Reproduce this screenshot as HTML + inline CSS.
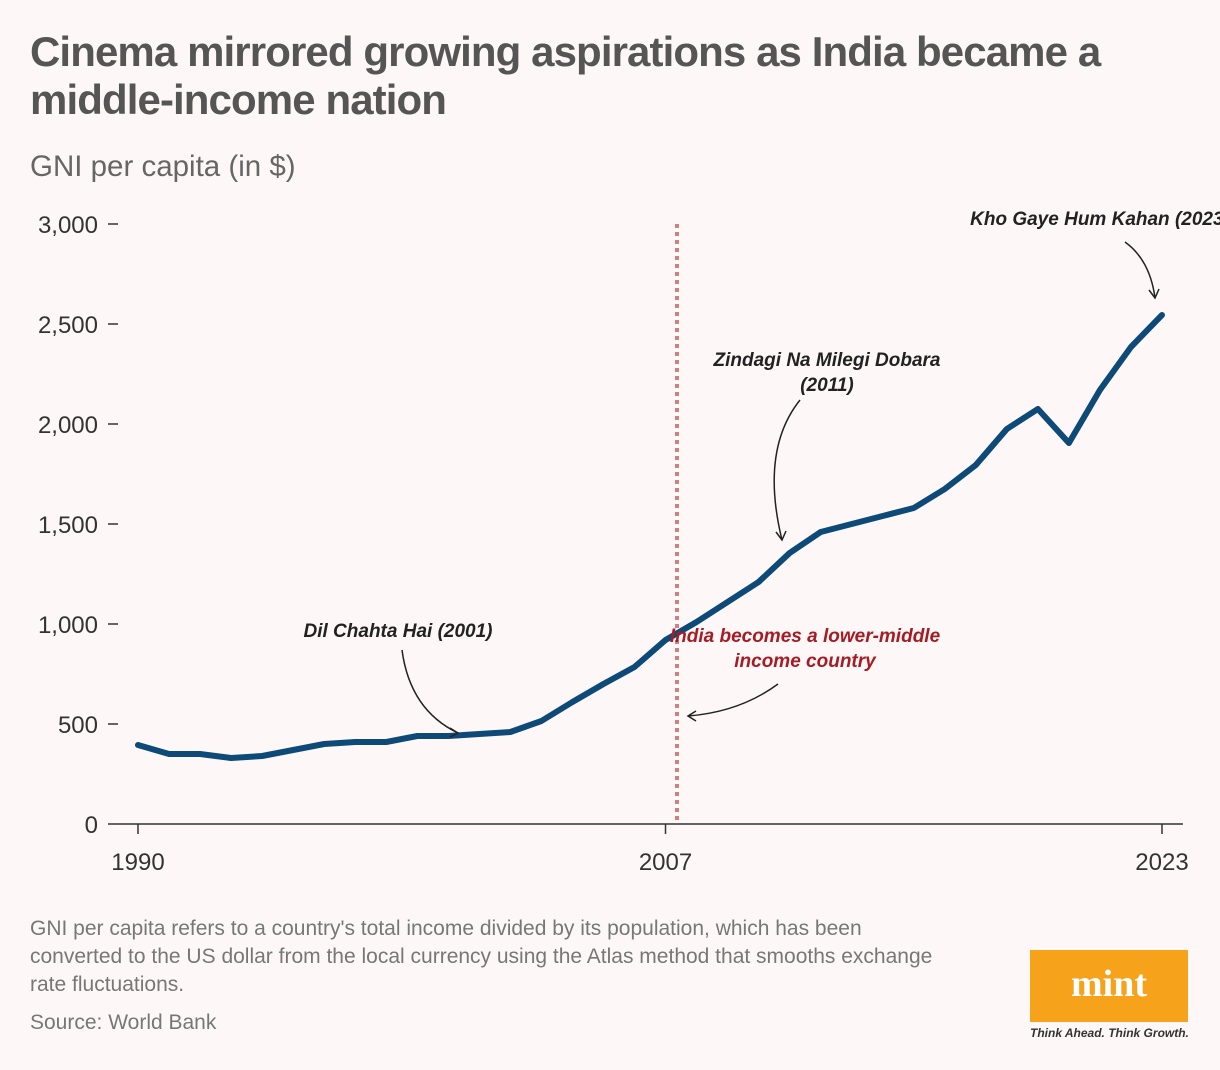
<!DOCTYPE html>
<html><head><meta charset="utf-8"><style>
body{margin:0;width:1220px;height:1070px;background:#fdf8f7;font-family:"Liberation Sans",sans-serif;overflow:hidden;position:relative}
.t{position:absolute;left:30px;top:28px;font-size:42px;font-weight:bold;color:#555;line-height:48px;letter-spacing:-0.9px}
.sub{position:absolute;left:30px;top:150px;font-size:29.5px;color:#666}
.note{position:absolute;left:30px;top:915px;font-size:21px;color:#777;line-height:28px;width:905px}
.src{position:absolute;left:30px;top:1011px;font-size:21px;color:#777}
.logo{position:absolute;left:1030px;top:950px;width:158px;height:72px;background:#f7a21b;color:#fff;font:bold 38px "Liberation Serif",serif;text-align:center;line-height:68px}
.tag{position:absolute;left:1030px;top:1026px;font-size:12px;font-style:italic;font-weight:bold;color:#333}
</style></head><body>
<div class="t">Cinema mirrored growing aspirations as India became a<br>middle-income nation</div>
<div class="sub">GNI per capita (in $)</div>
<svg id="c" width="1220" height="1070" style="position:absolute;left:0;top:0"></svg>
<div class="note">GNI per capita refers to a country's total income divided by its population, which has been converted to the US dollar from the local currency using the Atlas method that smooths exchange rate fluctuations.</div>
<div class="src">Source: World Bank</div>
<div class="logo">mint</div>
<div class="tag">Think Ahead. Think Growth.</div>
<script>
const years=[1990,1991,1992,1993,1994,1995,1996,1997,1998,1999,2000,2001,2002,2003,2004,2005,2006,2007,2008,2009,2010,2011,2012,2013,2014,2015,2016,2017,2018,2019,2020,2021,2022,2023];
const gni=[395,350,350,330,340,370,400,410,410,440,440,450,460,515,610,700,785,920,1010,1110,1210,1355,1460,1500,1540,1580,1675,1795,1975,2075,1905,2170,2385,2545];
const yTicks=[0,500,1000,1500,2000,2500,3000];
const xTicks=[1990,2007,2023];
const NS="http://www.w3.org/2000/svg",svg=document.getElementById('c');
const X=y=>138+(y-1990)*(1162-138)/33, Y=v=>824-v*0.2;
function mk(t,a,txt){const e=document.createElementNS(NS,t);for(const k in a)e.setAttribute(k,a[k]);if(txt!=null)e.textContent=txt;svg.appendChild(e);return e;}
yTicks.forEach(v=>{
 let t=mk('text',{x:98,y:Y(v)+9,'text-anchor':'end','font-size':24,fill:'#333','font-family':'Liberation Sans'},v.toLocaleString('en-US'));
 
 mk('line',{x1:108,x2:118,y1:Y(v),y2:Y(v),stroke:'#333','stroke-width':1.5});
});
let ax=mk('line',{x1:118,x2:1183,y1:824,y2:824,stroke:'#333','stroke-width':1.5});

xTicks.forEach(v=>{
 mk('line',{x1:X(v),x2:X(v),y1:824,y2:834,stroke:'#333','stroke-width':1.5});
 let t=mk('text',{x:X(v),y:870,'text-anchor':'middle','font-size':24,fill:'#333'},v);
 
});
let vl=mk('line',{x1:677,x2:677,y1:224,y2:824,stroke:'#d08080','stroke-width':4,'stroke-dasharray':'4 4'});

let ln=mk('polyline',{points:years.map((y,i)=>X(y)+','+Y(gni[i])).join(' '),fill:'none',stroke:'#0d4a78','stroke-width':6,'stroke-linejoin':'round','stroke-linecap':'round'});

function ann(x,y,lines,col,name){lines.forEach((l,i)=>{let t=mk('text',{x:x,y:y+i*25,'text-anchor':'middle','font-size':19,'font-weight':'bold','font-style':'italic',fill:col},l);});}
ann(398,637,['Dil Chahta Hai (2001)'],'#222','annotation-dch');
ann(827,366,['Zindagi Na Milegi Dobara','(2011)'],'#222','annotation-znmd');
ann(1100,225,['Kho Gaye Hum Kahan (2023)'],'#222','annotation-kghk');
ann(805,642,['India becomes a lower-middle','income country'],'#a51c24','annotation-income');
const arr=(d)=>{mk('path',{d:d,fill:'none',stroke:'#222','stroke-width':1.5});};
arr('M402,650 Q410,710 458,733');arr('M450,728 L458,733 L450,737');
arr('M800,400 Q760,450 782,540');arr('M776,532 L782,540 L786,531');
arr('M1125,242 Q1150,260 1155,298');arr('M1149,290 L1155,298 L1159,289');
arr('M778,684 Q740,712 688,716');arr('M696,711 L688,716 L696,721');
</script>
</body></html>
